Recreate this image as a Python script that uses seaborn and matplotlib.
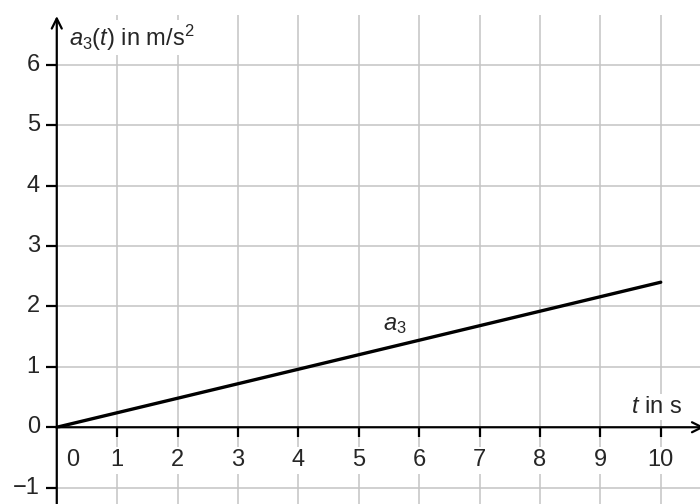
import matplotlib
matplotlib.use("Agg")
import matplotlib.pyplot as plt
import seaborn as sns
import pandas as pd

# data
t_vals = [0, 10]
a3_vals = [0, 2.4]
x_ticks = [0, 1, 2, 3, 4, 5, 6, 7, 8, 9, 10]
y_ticks = [-1, 0, 1, 2, 3, 4, 5, 6]

sns.set_style("white")
plt.rcParams["font.family"] = ["Liberation Sans", "DejaVu Sans"]
plt.rcParams["mathtext.fontset"] = "custom"
plt.rcParams["mathtext.rm"] = "Liberation Sans"
plt.rcParams["mathtext.it"] = "Liberation Sans:italic"

df = pd.DataFrame({"t": t_vals, "a3": a3_vals})

fig = plt.figure(figsize=(7, 5.04), dpi=100)
ax = fig.add_axes([0, 0, 1, 1])
xmin, xmax = -0.94, 10.65
ymin, ymax = -1.27, 7.07
ax.set_xlim(xmin, xmax)
ax.set_ylim(ymin, ymax)
ax.axis("off")

grid_c = "#c4c4c4"
top = 6.82
# grid
ax.vlines(x_ticks[1:], ymin, top, color=grid_c, lw=1.1, zorder=1)
ax.hlines([y for y in y_ticks if y != 0], 0, xmax, color=grid_c, lw=1.1, zorder=1)

# axes with arrows
ax.annotate("", xy=(xmax + 0.12, 0), xytext=(0, 0),
            arrowprops=dict(arrowstyle="->", lw=1.6, color="black", mutation_scale=18),
            zorder=3, annotation_clip=False)
ax.annotate("", xy=(0, top + 0.03), xytext=(0, ymin - 0.1),
            arrowprops=dict(arrowstyle="->", lw=1.6, color="black", mutation_scale=18),
            zorder=3, annotation_clip=False)

# tick marks
ax.vlines(x_ticks[1:], -0.16, 0, color="black", lw=1.6, zorder=3)
ax.hlines(y_ticks, -0.18, 0, color="black", lw=1.6, zorder=3)

fs = 17
box = dict(facecolor="white", edgecolor="none", pad=1.5)
for x in x_ticks:
    xp = 0.26 if x == 0 else x
    ax.text(xp, -0.55, str(x), ha="center", va="center", fontsize=fs, bbox=box, zorder=4)
for y in y_ticks:
    lab = "\u2212" + str(-y) if y < 0 else str(y)
    ax.text(-0.28, y, lab, ha="right", va="center", fontsize=fs, zorder=4)

# line
sns.lineplot(data=df, x="t", y="a3", color="black", lw=2.4, ax=ax, zorder=5)

ax.text(0.2, 6.45, r"$a_3(t)$ in m/s$^2$", ha="left", va="center", fontsize=fs, bbox=box, zorder=4)
ax.text(5.6, 1.7, r"$a_3$", ha="center", va="center", fontsize=fs, bbox=dict(facecolor="white", edgecolor="none", pad=0.5), zorder=4)
ax.text(10.35, 0.34, r"$t$ in s", ha="right", va="center", fontsize=fs, bbox=box, zorder=4)

fig.savefig("out.png", dpi=100)
